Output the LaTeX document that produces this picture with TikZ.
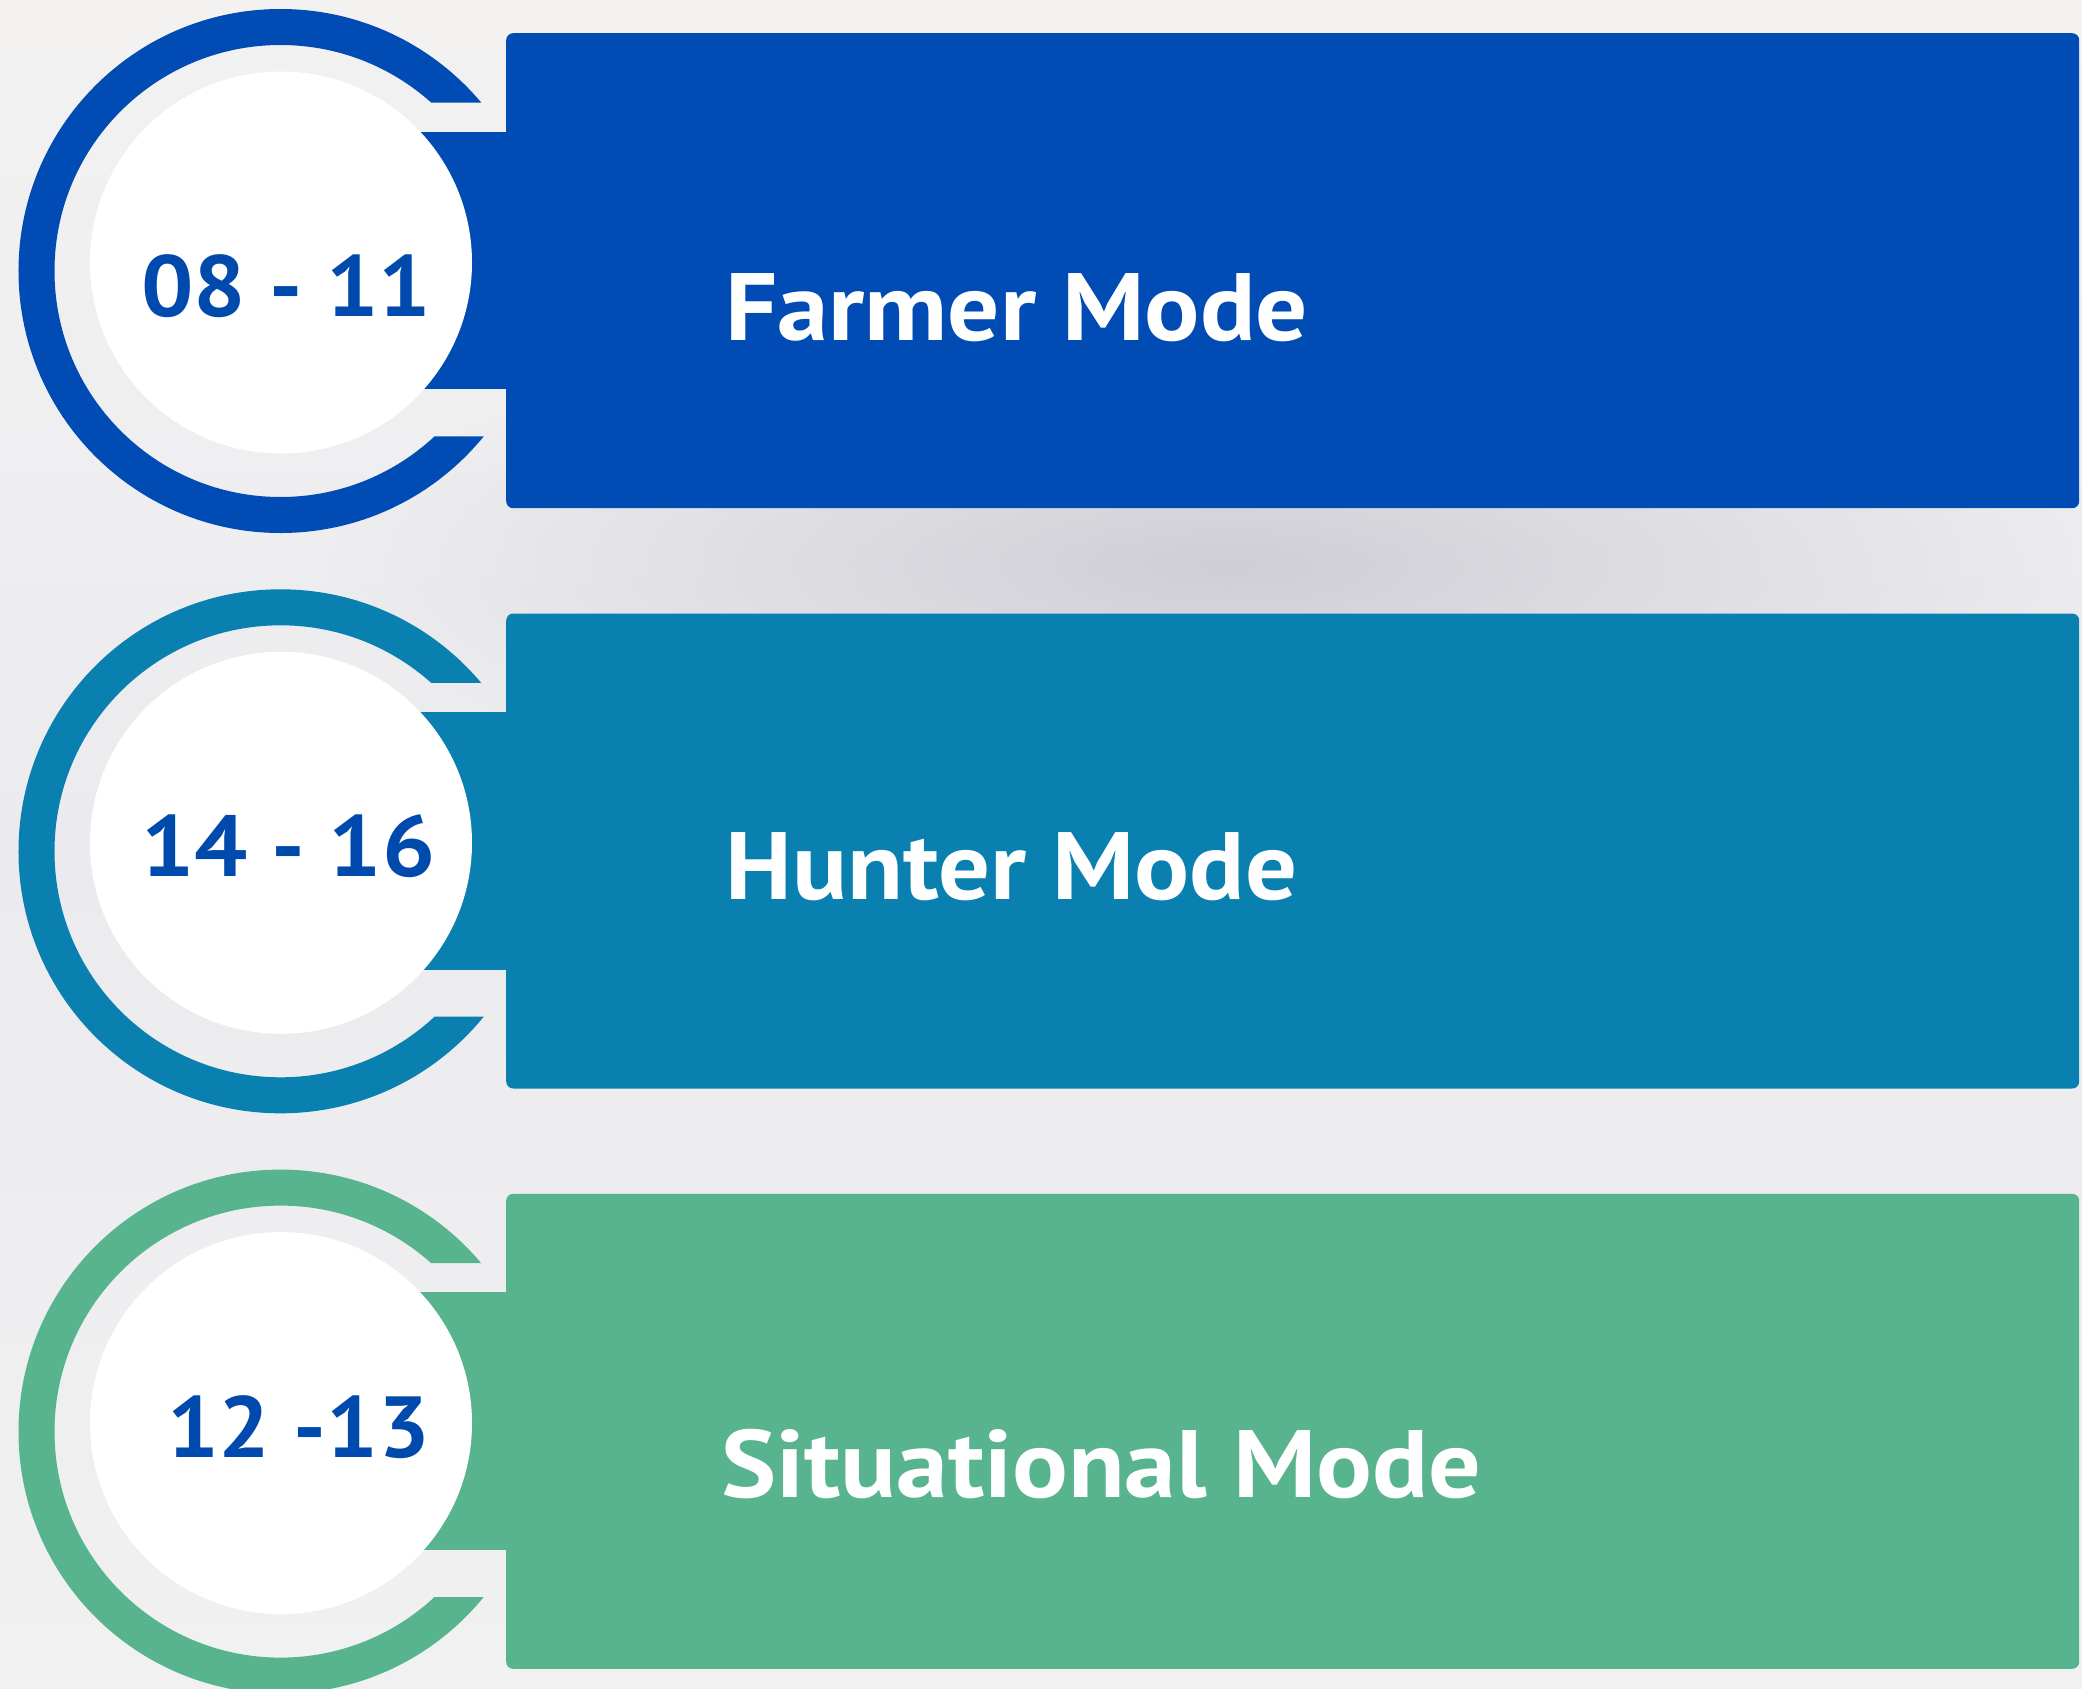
\documentclass[tikz,border=0pt]{standalone}
\usepackage{fontspec}
\setmainfont{PT Sans}
\usepackage{graphicx}
\usetikzlibrary{fadings}
\definecolor{bgtop}{HTML}{F3F2F1}
\definecolor{bgmid}{HTML}{EBEBEF}
\definecolor{bgbot}{HTML}{F1F1F1}
\definecolor{shadowcol}{HTML}{CFCED5}
\definecolor{cblue}{HTML}{004BB4}
\definecolor{cteal}{HTML}{0980B0}
\definecolor{cgreen}{HTML}{57B48E}
\definecolor{numblue}{HTML}{004AAD}
\tikzfading[name=softellipse, inner color=transparent!0, outer color=transparent!100]
\newsavebox\fitbox
\newdimen\fitdim
\newcommand\fitx[2]{\sbox\fitbox{#2}\fitdim=\wd\fitbox\pgfmathsetmacro\fitr{#1*1.00375pt/\fitdim}\scalebox{\fitr}[1]{\usebox\fitbox}}
\begin{document}
\begin{tikzpicture}[x=1bp,y=-1bp,
  card/.style={rounded corners=7bp, minimum width=1573bp, minimum height=475bp, anchor=north west, inner sep=0pt, draw=none},
  neck/.style={minimum width=100bp, minimum height=257.5bp, anchor=north west, inner sep=0pt, draw=none},
  disc/.style={circle, fill=white, minimum size=382bp, inner sep=0pt, draw=none},
  modetext/.style={text=white, anchor=base west, inner sep=0pt, font=\fontsize{96}{100}\selectfont\bfseries},
  numtext/.style={text=numblue, anchor=base west, inner sep=0pt, font=\fontsize{87}{90}\selectfont\bfseries}]
\useasboundingbox (0,0) rectangle (2082,1689);
\shade[top color=bgtop, bottom color=bgbot, middle color=bgmid] (0,0) rectangle (2082,1689);
\fill[shadowcol, path fading=softellipse] (1230,565) ellipse [x radius=900bp, y radius=250bp];
% ---------- row 1
\begin{scope}
\clip (-10,-10) rectangle (280,1700) (280,-10) rectangle (2100,102.5) (280,436.4) rectangle (2100,1700);
\fill[cblue, even odd rule] (280.5,271) circle[radius=262bp] circle[radius=226bp];
\end{scope}
\node[neck, fill=cblue] (neck1) at (410,131.5) {};
\node[card, fill=cblue] (card1) at (506,33) {};
\node[disc] (disc1) at (281,262.5) {};
\node[numtext] (num1) at (141,316) {\fitx{290}{08 - 11}};
\node[modetext] (mode1) at (725,340) {\fitx{583}{Farmer Mode}};
% ---------- row 2
\begin{scope}
\clip (-10,-10) rectangle (280,1700) (280,-10) rectangle (2100,682.8) (280,1016.7) rectangle (2100,1700);
\fill[cteal, even odd rule] (280.5,851.3) circle[radius=262bp] circle[radius=226bp];
\end{scope}
\node[neck, fill=cteal] (neck2) at (410,711.8) {};
\node[card, fill=cteal] (card2) at (506,613.3) {};
\node[disc] (disc2) at (281,842.8) {};
\node[numtext] (num2) at (141,876.5) {\fitx{294}{14 - 16}};
\node[modetext] (mode2) at (725,899) {\fitx{572}{Hunter Mode}};
% ---------- row 3
\begin{scope}
\clip (-10,-10) rectangle (280,1700) (280,-10) rectangle (2100,1263.1) (280,1597) rectangle (2100,1700);
\fill[cgreen, even odd rule] (280.5,1431.6) circle[radius=262bp] circle[radius=226bp];
\end{scope}
\node[neck, fill=cgreen] (neck3) at (410,1292.1) {};
\node[card, fill=cgreen] (card3) at (506,1193.6) {};
\node[disc] (disc3) at (281,1423.1) {};
\node[numtext] (num3) at (167,1457) {\fitx{263}{12 -13}};
\node[modetext] (mode3) at (721,1497) {\fitx{760}{Situational Mode}};
\end{tikzpicture}
\end{document}
